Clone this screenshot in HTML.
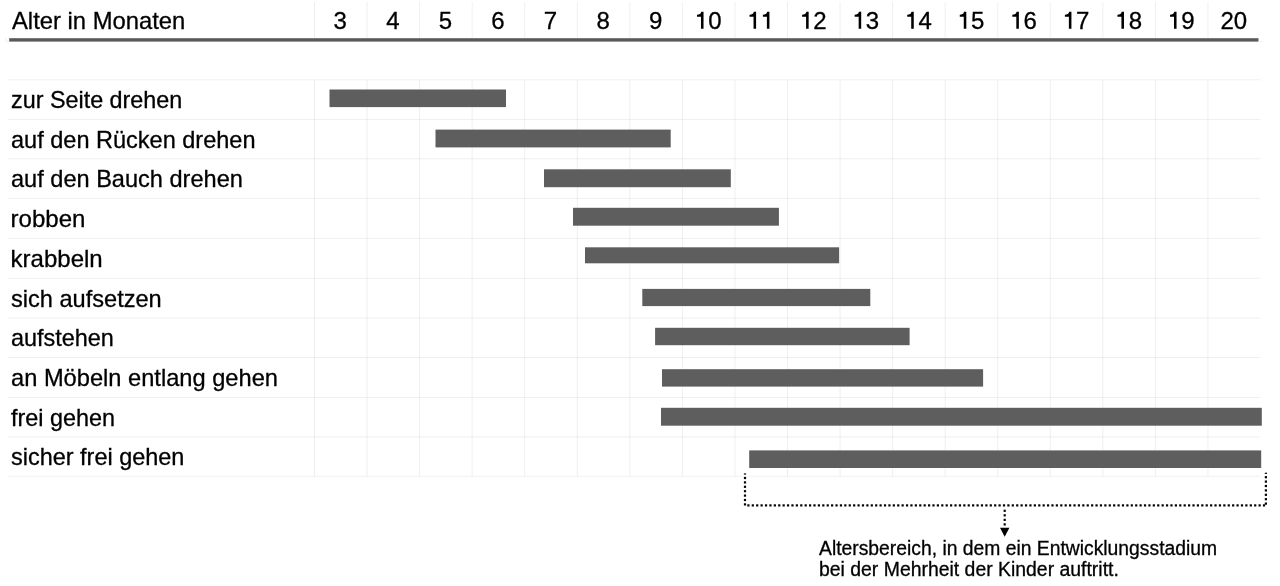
<!DOCTYPE html>
<html><head><meta charset="utf-8"><style>
html,body{margin:0;padding:0;background:#fff;}
body{width:1280px;height:586px;overflow:hidden;position:relative;filter:grayscale(1);font-family:"Liberation Sans",sans-serif;color:#000;-webkit-text-stroke:0.3px #000;}
.t{position:absolute;white-space:nowrap;font-size:24.0px;line-height:30px;transform-origin:0 50%;}
.n{position:absolute;white-space:nowrap;font-size:24.0px;line-height:30px;text-align:center;width:52px;}
.c{position:absolute;white-space:nowrap;font-size:19.5px;line-height:20.8px;transform-origin:0 0;}
svg{position:absolute;left:0;top:0;}
.one{position:relative;color:transparent;-webkit-text-stroke:0 transparent;}

</style></head><body>
<svg width="1280" height="586" viewBox="0 0 1280 586">

<rect x="314.00" y="2" width="1" height="36" fill="#000" fill-opacity="0.063"/>
<rect x="314.00" y="80" width="1" height="396.5" fill="#000" fill-opacity="0.063"/>
<rect x="366.56" y="2" width="1" height="36" fill="#000" fill-opacity="0.063"/>
<rect x="366.56" y="80" width="1" height="396.5" fill="#000" fill-opacity="0.063"/>
<rect x="419.11" y="2" width="1" height="36" fill="#000" fill-opacity="0.063"/>
<rect x="419.11" y="80" width="1" height="396.5" fill="#000" fill-opacity="0.063"/>
<rect x="471.67" y="2" width="1" height="36" fill="#000" fill-opacity="0.063"/>
<rect x="471.67" y="80" width="1" height="396.5" fill="#000" fill-opacity="0.063"/>
<rect x="524.22" y="2" width="1" height="36" fill="#000" fill-opacity="0.063"/>
<rect x="524.22" y="80" width="1" height="396.5" fill="#000" fill-opacity="0.063"/>
<rect x="576.78" y="2" width="1" height="36" fill="#000" fill-opacity="0.063"/>
<rect x="576.78" y="80" width="1" height="396.5" fill="#000" fill-opacity="0.063"/>
<rect x="629.34" y="2" width="1" height="36" fill="#000" fill-opacity="0.063"/>
<rect x="629.34" y="80" width="1" height="396.5" fill="#000" fill-opacity="0.063"/>
<rect x="681.89" y="2" width="1" height="36" fill="#000" fill-opacity="0.063"/>
<rect x="681.89" y="80" width="1" height="396.5" fill="#000" fill-opacity="0.063"/>
<rect x="734.45" y="2" width="1" height="36" fill="#000" fill-opacity="0.063"/>
<rect x="734.45" y="80" width="1" height="396.5" fill="#000" fill-opacity="0.063"/>
<rect x="787.00" y="2" width="1" height="36" fill="#000" fill-opacity="0.063"/>
<rect x="787.00" y="80" width="1" height="396.5" fill="#000" fill-opacity="0.063"/>
<rect x="839.56" y="2" width="1" height="36" fill="#000" fill-opacity="0.063"/>
<rect x="839.56" y="80" width="1" height="396.5" fill="#000" fill-opacity="0.063"/>
<rect x="892.12" y="2" width="1" height="36" fill="#000" fill-opacity="0.063"/>
<rect x="892.12" y="80" width="1" height="396.5" fill="#000" fill-opacity="0.063"/>
<rect x="944.67" y="2" width="1" height="36" fill="#000" fill-opacity="0.063"/>
<rect x="944.67" y="80" width="1" height="396.5" fill="#000" fill-opacity="0.063"/>
<rect x="997.23" y="2" width="1" height="36" fill="#000" fill-opacity="0.063"/>
<rect x="997.23" y="80" width="1" height="396.5" fill="#000" fill-opacity="0.063"/>
<rect x="1049.78" y="2" width="1" height="36" fill="#000" fill-opacity="0.063"/>
<rect x="1049.78" y="80" width="1" height="396.5" fill="#000" fill-opacity="0.063"/>
<rect x="1102.34" y="2" width="1" height="36" fill="#000" fill-opacity="0.063"/>
<rect x="1102.34" y="80" width="1" height="396.5" fill="#000" fill-opacity="0.063"/>
<rect x="1154.90" y="2" width="1" height="36" fill="#000" fill-opacity="0.063"/>
<rect x="1154.90" y="80" width="1" height="396.5" fill="#000" fill-opacity="0.063"/>
<rect x="1207.45" y="2" width="1" height="36" fill="#000" fill-opacity="0.063"/>
<rect x="1207.45" y="80" width="1" height="396.5" fill="#000" fill-opacity="0.063"/>
<rect x="8" y="79.30" width="1252.5" height="1" fill="#000" fill-opacity="0.063"/>
<rect x="8" y="118.90" width="1252.5" height="1" fill="#000" fill-opacity="0.063"/>
<rect x="8" y="158.20" width="1252.5" height="1" fill="#000" fill-opacity="0.063"/>
<rect x="8" y="197.90" width="1252.5" height="1" fill="#000" fill-opacity="0.063"/>
<rect x="8" y="237.80" width="1252.5" height="1" fill="#000" fill-opacity="0.063"/>
<rect x="8" y="277.80" width="1252.5" height="1" fill="#000" fill-opacity="0.063"/>
<rect x="8" y="317.50" width="1252.5" height="1" fill="#000" fill-opacity="0.063"/>
<rect x="8" y="357.00" width="1252.5" height="1" fill="#000" fill-opacity="0.063"/>
<rect x="8" y="396.90" width="1252.5" height="1" fill="#000" fill-opacity="0.063"/>
<rect x="8" y="436.40" width="1252.5" height="1" fill="#000" fill-opacity="0.063"/>
<rect x="8" y="475.70" width="1252.5" height="1" fill="#000" fill-opacity="0.063"/>
<rect x="9.2" y="38.2" width="1249.3" height="3.4" fill="#5a5a5a"/>
<path d="M6 37.8 V41.2 H9" stroke="#eeeeee" stroke-width="1" fill="none"/>
<rect x="1258.5" y="41" width="4" height="1" fill="#f0f0f0"/>
<rect x="329.5" y="89.5" width="176.50" height="17.60" fill="#5e5e5e"/>
<rect x="435.5" y="129.6" width="235.20" height="17.80" fill="#5e5e5e"/>
<rect x="544" y="169.3" width="186.80" height="17.90" fill="#5e5e5e"/>
<rect x="573" y="207.8" width="205.90" height="17.90" fill="#5e5e5e"/>
<rect x="585" y="247.3" width="254.10" height="16.00" fill="#5e5e5e"/>
<rect x="642.3" y="288.9" width="228.00" height="17.20" fill="#5e5e5e"/>
<rect x="655.1" y="327.8" width="254.50" height="17.40" fill="#5e5e5e"/>
<rect x="662" y="369.2" width="321.10" height="17.40" fill="#5e5e5e"/>
<rect x="661" y="407.8" width="600.80" height="17.90" fill="#5e5e5e"/>
<rect x="749.2" y="450.4" width="512.00" height="17.60" fill="#5e5e5e"/>
<g fill="#000"><rect x="743.90" y="473.40" width="2.2" height="1.2"/><rect x="743.90" y="476.90" width="2.2" height="2.2"/><rect x="743.90" y="481.30" width="2.2" height="2.2"/><rect x="743.90" y="485.70" width="2.2" height="2.2"/><rect x="743.90" y="490.10" width="2.2" height="2.2"/><rect x="743.90" y="494.50" width="2.2" height="2.2"/><rect x="743.90" y="498.90" width="2.2" height="2.2"/><rect x="743.90" y="503.30" width="2.2" height="2.2"/><rect x="1264.80" y="472.70" width="2.2" height="1.2"/><rect x="1264.80" y="476.10" width="2.2" height="2.2"/><rect x="1264.80" y="480.50" width="2.2" height="2.2"/><rect x="1264.80" y="484.90" width="2.2" height="2.2"/><rect x="1264.80" y="489.30" width="2.2" height="2.2"/><rect x="1264.80" y="493.70" width="2.2" height="2.2"/><rect x="1264.80" y="498.10" width="2.2" height="2.2"/><rect x="1264.80" y="502.50" width="2.2" height="2.2"/><rect x="747.30" y="504.30" width="2.2" height="2.2"/><rect x="751.71" y="504.30" width="2.2" height="2.2"/><rect x="756.11" y="504.30" width="2.2" height="2.2"/><rect x="760.52" y="504.30" width="2.2" height="2.2"/><rect x="764.93" y="504.30" width="2.2" height="2.2"/><rect x="769.33" y="504.30" width="2.2" height="2.2"/><rect x="773.74" y="504.30" width="2.2" height="2.2"/><rect x="778.15" y="504.30" width="2.2" height="2.2"/><rect x="782.56" y="504.30" width="2.2" height="2.2"/><rect x="786.96" y="504.30" width="2.2" height="2.2"/><rect x="791.37" y="504.30" width="2.2" height="2.2"/><rect x="795.78" y="504.30" width="2.2" height="2.2"/><rect x="800.18" y="504.30" width="2.2" height="2.2"/><rect x="804.59" y="504.30" width="2.2" height="2.2"/><rect x="809.00" y="504.30" width="2.2" height="2.2"/><rect x="813.40" y="504.30" width="2.2" height="2.2"/><rect x="817.81" y="504.30" width="2.2" height="2.2"/><rect x="822.22" y="504.30" width="2.2" height="2.2"/><rect x="826.63" y="504.30" width="2.2" height="2.2"/><rect x="831.03" y="504.30" width="2.2" height="2.2"/><rect x="835.44" y="504.30" width="2.2" height="2.2"/><rect x="839.85" y="504.30" width="2.2" height="2.2"/><rect x="844.25" y="504.30" width="2.2" height="2.2"/><rect x="848.66" y="504.30" width="2.2" height="2.2"/><rect x="853.07" y="504.30" width="2.2" height="2.2"/><rect x="857.47" y="504.30" width="2.2" height="2.2"/><rect x="861.88" y="504.30" width="2.2" height="2.2"/><rect x="866.29" y="504.30" width="2.2" height="2.2"/><rect x="870.70" y="504.30" width="2.2" height="2.2"/><rect x="875.10" y="504.30" width="2.2" height="2.2"/><rect x="879.51" y="504.30" width="2.2" height="2.2"/><rect x="883.92" y="504.30" width="2.2" height="2.2"/><rect x="888.32" y="504.30" width="2.2" height="2.2"/><rect x="892.73" y="504.30" width="2.2" height="2.2"/><rect x="897.14" y="504.30" width="2.2" height="2.2"/><rect x="901.54" y="504.30" width="2.2" height="2.2"/><rect x="905.95" y="504.30" width="2.2" height="2.2"/><rect x="910.36" y="504.30" width="2.2" height="2.2"/><rect x="914.77" y="504.30" width="2.2" height="2.2"/><rect x="919.17" y="504.30" width="2.2" height="2.2"/><rect x="923.58" y="504.30" width="2.2" height="2.2"/><rect x="927.99" y="504.30" width="2.2" height="2.2"/><rect x="932.39" y="504.30" width="2.2" height="2.2"/><rect x="936.80" y="504.30" width="2.2" height="2.2"/><rect x="941.21" y="504.30" width="2.2" height="2.2"/><rect x="945.61" y="504.30" width="2.2" height="2.2"/><rect x="950.02" y="504.30" width="2.2" height="2.2"/><rect x="954.43" y="504.30" width="2.2" height="2.2"/><rect x="958.84" y="504.30" width="2.2" height="2.2"/><rect x="963.24" y="504.30" width="2.2" height="2.2"/><rect x="967.65" y="504.30" width="2.2" height="2.2"/><rect x="972.06" y="504.30" width="2.2" height="2.2"/><rect x="976.46" y="504.30" width="2.2" height="2.2"/><rect x="980.87" y="504.30" width="2.2" height="2.2"/><rect x="985.28" y="504.30" width="2.2" height="2.2"/><rect x="989.68" y="504.30" width="2.2" height="2.2"/><rect x="994.09" y="504.30" width="2.2" height="2.2"/><rect x="998.50" y="504.30" width="2.2" height="2.2"/><rect x="1002.91" y="504.30" width="2.2" height="2.2"/><rect x="1007.31" y="504.30" width="2.2" height="2.2"/><rect x="1011.72" y="504.30" width="2.2" height="2.2"/><rect x="1016.13" y="504.30" width="2.2" height="2.2"/><rect x="1020.53" y="504.30" width="2.2" height="2.2"/><rect x="1024.94" y="504.30" width="2.2" height="2.2"/><rect x="1029.35" y="504.30" width="2.2" height="2.2"/><rect x="1033.76" y="504.30" width="2.2" height="2.2"/><rect x="1038.16" y="504.30" width="2.2" height="2.2"/><rect x="1042.57" y="504.30" width="2.2" height="2.2"/><rect x="1046.98" y="504.30" width="2.2" height="2.2"/><rect x="1051.38" y="504.30" width="2.2" height="2.2"/><rect x="1055.79" y="504.30" width="2.2" height="2.2"/><rect x="1060.20" y="504.30" width="2.2" height="2.2"/><rect x="1064.60" y="504.30" width="2.2" height="2.2"/><rect x="1069.01" y="504.30" width="2.2" height="2.2"/><rect x="1073.42" y="504.30" width="2.2" height="2.2"/><rect x="1077.83" y="504.30" width="2.2" height="2.2"/><rect x="1082.23" y="504.30" width="2.2" height="2.2"/><rect x="1086.64" y="504.30" width="2.2" height="2.2"/><rect x="1091.05" y="504.30" width="2.2" height="2.2"/><rect x="1095.45" y="504.30" width="2.2" height="2.2"/><rect x="1099.86" y="504.30" width="2.2" height="2.2"/><rect x="1104.27" y="504.30" width="2.2" height="2.2"/><rect x="1108.67" y="504.30" width="2.2" height="2.2"/><rect x="1113.08" y="504.30" width="2.2" height="2.2"/><rect x="1117.49" y="504.30" width="2.2" height="2.2"/><rect x="1121.89" y="504.30" width="2.2" height="2.2"/><rect x="1126.30" y="504.30" width="2.2" height="2.2"/><rect x="1130.71" y="504.30" width="2.2" height="2.2"/><rect x="1135.12" y="504.30" width="2.2" height="2.2"/><rect x="1139.52" y="504.30" width="2.2" height="2.2"/><rect x="1143.93" y="504.30" width="2.2" height="2.2"/><rect x="1148.34" y="504.30" width="2.2" height="2.2"/><rect x="1152.74" y="504.30" width="2.2" height="2.2"/><rect x="1157.15" y="504.30" width="2.2" height="2.2"/><rect x="1161.56" y="504.30" width="2.2" height="2.2"/><rect x="1165.97" y="504.30" width="2.2" height="2.2"/><rect x="1170.37" y="504.30" width="2.2" height="2.2"/><rect x="1174.78" y="504.30" width="2.2" height="2.2"/><rect x="1179.19" y="504.30" width="2.2" height="2.2"/><rect x="1183.59" y="504.30" width="2.2" height="2.2"/><rect x="1188.00" y="504.30" width="2.2" height="2.2"/><rect x="1192.41" y="504.30" width="2.2" height="2.2"/><rect x="1196.81" y="504.30" width="2.2" height="2.2"/><rect x="1201.22" y="504.30" width="2.2" height="2.2"/><rect x="1205.63" y="504.30" width="2.2" height="2.2"/><rect x="1210.04" y="504.30" width="2.2" height="2.2"/><rect x="1214.44" y="504.30" width="2.2" height="2.2"/><rect x="1218.85" y="504.30" width="2.2" height="2.2"/><rect x="1223.26" y="504.30" width="2.2" height="2.2"/><rect x="1227.66" y="504.30" width="2.2" height="2.2"/><rect x="1232.07" y="504.30" width="2.2" height="2.2"/><rect x="1236.48" y="504.30" width="2.2" height="2.2"/><rect x="1240.88" y="504.30" width="2.2" height="2.2"/><rect x="1245.29" y="504.30" width="2.2" height="2.2"/><rect x="1249.70" y="504.30" width="2.2" height="2.2"/><rect x="1254.11" y="504.30" width="2.2" height="2.2"/><rect x="1258.51" y="504.30" width="2.2" height="2.2"/><rect x="1262.92" y="504.30" width="2.2" height="2.2"/><rect x="1003.60" y="509.70" width="2.2" height="2.2"/><rect x="1003.60" y="514.23" width="2.2" height="2.2"/><rect x="1003.60" y="518.76" width="2.2" height="2.2"/><rect x="1003.60" y="523.29" width="2.2" height="2.2"/></g>
<path d="M1000 527.8 L1009.4 527.8 L1004.7 536.8 Z" fill="#000"/>
</svg>
<div class="t" id="h" style="left:11.8px;top:5.7px;transform:scaleX(0.9913);">Alter in Monaten</div>
<div class="n" style="left:314.30px;top:5.8px">3</div>
<div class="n" style="left:366.86px;top:5.8px">4</div>
<div class="n" style="left:419.41px;top:5.8px">5</div>
<div class="n" style="left:471.97px;top:5.8px">6</div>
<div class="n" style="left:524.52px;top:5.8px">7</div>
<div class="n" style="left:577.08px;top:5.8px">8</div>
<div class="n" style="left:629.64px;top:5.8px">9</div>
<div class="n" style="left:682.19px;top:5.8px"><span class="one">1</span>0</div>
<div class="n" style="left:734.75px;top:5.8px"><span class="one">1</span><span class="one">1</span></div>
<div class="n" style="left:787.30px;top:5.8px"><span class="one">1</span>2</div>
<div class="n" style="left:839.86px;top:5.8px"><span class="one">1</span>3</div>
<div class="n" style="left:892.42px;top:5.8px"><span class="one">1</span>4</div>
<div class="n" style="left:944.97px;top:5.8px"><span class="one">1</span>5</div>
<div class="n" style="left:997.53px;top:5.8px"><span class="one">1</span>6</div>
<div class="n" style="left:1050.08px;top:5.8px"><span class="one">1</span>7</div>
<div class="n" style="left:1102.64px;top:5.8px"><span class="one">1</span>8</div>
<div class="n" style="left:1155.20px;top:5.8px"><span class="one">1</span>9</div>
<div class="n" style="left:1207.75px;top:5.8px">20</div>
<svg width="1280" height="586" style="position:absolute;left:0;top:0"><g fill="#000"><path transform="translate(694.844,28.7) scale(0.0238,-0.0238)" d="M365 0 H258 V500 H90 V590 C190 592 250 615 270 715 H365 Z"/><path transform="translate(747.400,28.7) scale(0.0238,-0.0238)" d="M365 0 H258 V500 H90 V590 C190 592 250 615 270 715 H365 Z"/><path transform="translate(760.748,28.7) scale(0.0238,-0.0238)" d="M365 0 H258 V500 H90 V590 C190 592 250 615 270 715 H365 Z"/><path transform="translate(799.956,28.7) scale(0.0238,-0.0238)" d="M365 0 H258 V500 H90 V590 C190 592 250 615 270 715 H365 Z"/><path transform="translate(852.512,28.7) scale(0.0238,-0.0238)" d="M365 0 H258 V500 H90 V590 C190 592 250 615 270 715 H365 Z"/><path transform="translate(905.068,28.7) scale(0.0238,-0.0238)" d="M365 0 H258 V500 H90 V590 C190 592 250 615 270 715 H365 Z"/><path transform="translate(957.624,28.7) scale(0.0238,-0.0238)" d="M365 0 H258 V500 H90 V590 C190 592 250 615 270 715 H365 Z"/><path transform="translate(1010.180,28.7) scale(0.0238,-0.0238)" d="M365 0 H258 V500 H90 V590 C190 592 250 615 270 715 H365 Z"/><path transform="translate(1062.736,28.7) scale(0.0238,-0.0238)" d="M365 0 H258 V500 H90 V590 C190 592 250 615 270 715 H365 Z"/><path transform="translate(1115.292,28.7) scale(0.0238,-0.0238)" d="M365 0 H258 V500 H90 V590 C190 592 250 615 270 715 H365 Z"/><path transform="translate(1167.848,28.7) scale(0.0238,-0.0238)" d="M365 0 H258 V500 H90 V590 C190 592 250 615 270 715 H365 Z"/></g></svg>
<div class="t" id="l0" style="left:10.6px;top:85.10px;transform:scaleX(0.9725);">zur Seite drehen</div>
<div class="t" id="l1" style="left:10.6px;top:124.55px;transform:scaleX(0.9799);">auf den Rücken drehen</div>
<div class="t" id="l2" style="left:10.6px;top:164.05px;transform:scaleX(0.9817);">auf den Bauch drehen</div>
<div class="t" id="l3" style="left:10.6px;top:203.85px;">robben</div>
<div class="t" id="l4" style="left:10.6px;top:243.80px;">krabbeln</div>
<div class="t" id="l5" style="left:10.6px;top:283.65px;transform:scaleX(0.9823);">sich aufsetzen</div>
<div class="t" id="l6" style="left:10.6px;top:323.25px;transform:scaleX(0.9761);">aufstehen</div>
<div class="t" id="l7" style="left:10.6px;top:362.95px;transform:scaleX(0.9855);">an Möbeln entlang gehen</div>
<div class="t" id="l8" style="left:10.6px;top:402.65px;transform:scaleX(0.9744);">frei gehen</div>
<div class="t" id="l9" style="left:10.6px;top:442.05px;transform:scaleX(0.9773);">sicher frei gehen</div>
<div class="c" id="c0" style="left:819px;top:538.0px;transform:scaleX(0.9900);">Altersbereich, in dem ein Entwicklungsstadium</div>
<div class="c" id="c1" style="left:819px;top:558.9px;transform:scaleX(0.9950);">bei der Mehrheit der Kinder auftritt.</div>
</body></html>
